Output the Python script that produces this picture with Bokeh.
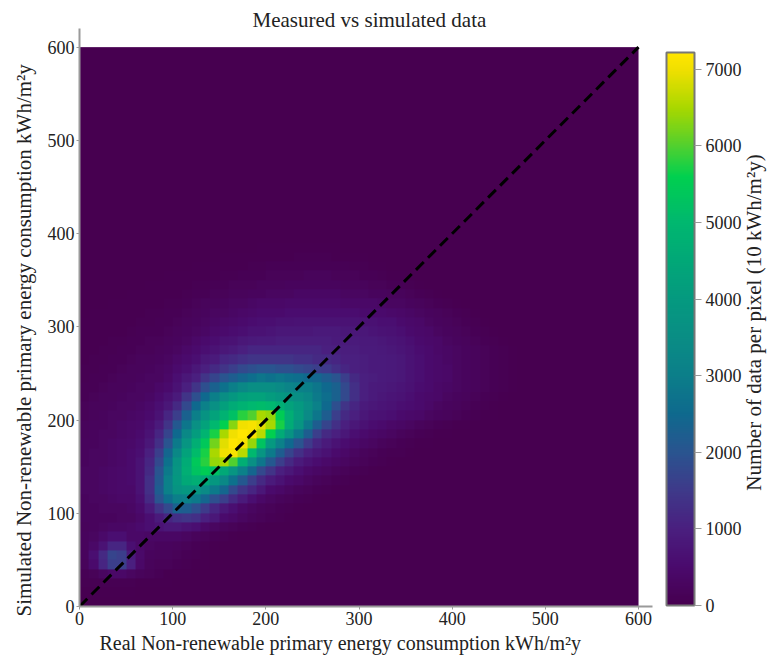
from bokeh.plotting import figure
from bokeh.embed import file_html
from bokeh.resources import INLINE
from bokeh.models import LinearColorMapper, ColorBar, FixedTicker, Title, Range1d, Label
import numpy as np
import math

TITLE = "Measured vs simulated data"
X_LABEL = "Real Non-renewable primary energy consumption kWh/m²y"
Y_LABEL = "Simulated Non-renewable primary energy consumption kWh/m²y"
CB_LABEL = "Number of data per pixel (10 kWh/m²y)"
AXIS_TICKS = [0, 100, 200, 300, 400, 500, 600]
CB_TICKS = [0, 1000, 2000, 3000, 4000, 5000, 6000, 7000]
DIAGONAL_X = [0, 600]
DIAGONAL_Y = [0, 600]

# Cells per 10 kWh/m2y, in hundreds; row = simulated bin from 0, column = real bin from 0.
HEAT_HUNDREDS = [
[],
[.5,.5,.5,.5,.3,.3],
[.7,.7,.7,.7,.7,.7,.5,.3,.3,.3],
[1,1.5,3,4,4,3,2,1.5,1,.5,.5,.3],
[2,5,11,16,16,10,4,2,1.5,1.5,1,.7,.4,.3],
[2.5,6,12,17,16,9,4.5,2.5,2,2,1.5,1,.7,.4],
[2.5,4,7,11,11,6,4,3,2.5,2.5,2,1.5,1,.7,.4],
[2.5,3,4.5,6,6,4,4,3.5,3.5,3.5,3.5,3,2,1.5,1,.7,.4],
[2,2.5,3,3.5,3.5,4,5,6,7,8,8,7,6,4,3,2,1.5,1,.7,.4],
[2.5,2.5,2.5,2.5,3,3,4,6,9,11,13,14,13,10,8,5,4,3,2,1.5,1,.7,.4],
[2.5,2.5,3,3,3,3.5,5,9,14,18,23,22,19,15,11,8,6,4,3,2,1.5,1,.7,.4],
[2.5,3,3,3.5,4,4,6,12,20,26,30,31,29,24,19,16,12,9,6,4,3,2,1.5,1,.7,.4],
[3,3,3.5,4,4.5,4.5,7,13,22,31,37,39,38,34,29,24,18,14,11,8,5,4,3,2,1.5,1,.7,.4],
[3,3,3.5,4,4.5,5,7,13,21,31,39,45,47,45,39,33,27,21,16,12,9,7,5,4,3,2,1.5,1,.7,.4],
[3,3,3.5,4,4.5,5,7,12,20,29,38,47,53,55,52,45,38,31,24,18,14,10,8,6,4.5,3.5,3,2,1.5,1,.7,.4],
[2.5,3,3,3.5,4,5,7,11,18,27,37,46,54,58,64,65,60,47,36,28,21,16,12,9,7,5.5,4.5,3.5,3,2,1.5,1,.7,.4],
[2.5,3,3,3.5,4,5,6,10,16,24,33,43,51,57,65,70,71,66,50,38,29,22,17,13,10,8,6.5,5,4,3,2,1.5,1,.8,.6,.4],
[2.5,2.5,3,3.5,4,4.5,5.5,8,13,20,29,38,47,54,62,69,72,71,64,53,40,31,25,20,15,11,9,7,5.5,4.5,3.5,3,2,1.5,1,.8,.5,.3],
[2,2.5,3,3,3.5,4,5,7,11,17,25,33,41,49,57,65,70,72,71,66,56,46,37,29,22,16,12,10,8,6,5,4,3.5,3,2,1.5,1,.8,.5,.3],
[2,2.5,2.5,3,3.5,4,4.5,6,9,14,21,28,36,43,50,56,63,70,71,69,65,57,46,38,29,22,17,13,10,8,6.5,5.5,5,4,3.5,3,2,1.5,1,.8,.5,.3],
[1.5,2,2.5,3,3,3.5,4,5,7,11,16,23,30,37,43,48,52,58,60,65,64,55,47,41,34,28,22,16,12,10,8,7,6.5,6,5,4.5,4,3,2.5,2,1.5,1,.7,.5,.3],
[1.5,2,2,2.5,3,3,3.5,4.5,6,8,12,18,25,31,36,42,46,48,50,51,50,47,43,40,35,31,25,19,14,11,9,8,7.5,7,6,5.5,5,4,3,2.5,2,1.5,1,.7,.4],
[1,1.5,2,2,2.5,3,3,3.5,5,6.5,9,14,19,25,30,35,39,42,43,43,41,39,37,35,33,29,26,23,18,13,10,9,8,7.5,7,6,5,4.5,4,3,2.5,2,1.5,1,.7,.4],
[1,1,1.5,2,2,2.5,3,3,4,5,7,10,14,19,23,27,30,33,35,35,35,34,32,31,30,28,25,23,18,13,10,9,8.5,8,7.5,6.5,5.5,5,4,3.5,3,2.5,2,1.5,1,.7,.4],
[.7,1,1,1.5,2,2,2.5,3,3,4,6,8,10,14,17,20,22,24,26,28,27,28,27,26,25,24,22,20,16,12,10,9.5,9,8.5,8,7,6,5,4.5,4,3,2.5,2,1.5,1,.7,.4],
[.7,.7,1,1,1.5,2,2,2.5,3,3.5,5,6,8,10,12,14,16,18,19,20,20,19,19,18,17,16,15,13,11,10,9.5,9,9,8.5,8,7,6,5,4.5,4,3,2.5,2,1.5,1,.7,.4],
[.5,.7,.7,1,1,1.5,2,2,2.5,3,4,5,6,8,9,11,12,13,14,14,14,14,14,13,13,12,12,11,10,10,9.5,9,9,8.5,8,7,6,5,4.5,3.5,3,2.5,2,1.5,1,.7,.4],
[.5,.5,.7,.7,1,1,1.5,1.5,2,2.5,3,4,5,6,7,8,9,10,11,11,11,11,11,11,11,11,10,10,9.5,9.5,9,9,8.5,8,7.5,6.5,5.5,5,4,3.5,3,2.5,2,1.5,1,.7,.4],
[.3,.5,.5,.7,.7,1,1,1.5,1.5,2,2.5,3,4,5,5.5,6.5,7,8,8.5,9,9,9.5,9.5,9.5,9.5,9.5,9.5,9,9,9,8.5,8.5,8,7.5,7,6,5,4.5,4,3,2.5,2,1.5,1,.7,.4],
[.3,.3,.5,.5,.5,.7,1,1,1,1.5,2,2.5,3,3.5,4.5,5,5.5,6,7,7,7.5,8,8,8,8,8.5,8.5,8.5,8,8,8,7.5,7,6.5,6,5,4.5,4,3,2.5,2,1.5,1,.7,.4],
[.3,.3,.3,.5,.5,.5,.7,.7,1,1,1.5,2,2.5,3,3.5,4,4.5,5,5.5,6,6,6.5,6.5,7,7,7,7,7,7,7,6.5,6.5,6,6,5,4.5,4,3,2.5,2,1.5,1,.7,.4],
[0,.3,.3,.3,.5,.5,.5,.7,.7,1,1,1.5,2,2.5,3,3,3.5,4,4.5,5,5,5,5.5,5.5,5.5,5.5,5.5,5.5,5.5,5.5,5,5,5,4.5,4,3.5,3,2.5,2,1.5,1,.7,.4],
[0,0,0,.3,.3,.3,.5,.5,.5,.7,.7,1,1.5,2,2,2.5,3,3,3.5,4,4,4,4.5,4.5,4.5,4.5,4.5,4.5,4,4,4,4,3.5,3,3,2.5,2,1.5,1,.7,.4],
[0,0,0,0,0,.3,.3,.3,.5,.5,.5,.7,1,1,1.5,1.5,2,2,2.5,2.5,3,3,3,3.5,3.5,3.5,3.5,3.5,3,3,3,2.5,2.5,2,2,1.5,1,.7,.4],
[0,0,0,0,0,0,0,.3,.3,.3,.5,.5,.7,.7,1,1,1.5,1.5,1.5,2,2,2,2.5,2.5,2.5,2.5,2.5,2.5,2,2,2,1.5,1.5,1,1,.7,.4],
[0,0,0,0,0,0,0,0,0,.3,.3,.3,.3,.5,.5,.7,.7,1,1,1,1.5,1.5,1.5,1.5,2,2,2,1.5,1.5,1.5,1,1,.7,.5,.3],
[0,0,0,0,0,0,0,0,0,0,0,0,.3,.3,.3,.5,.5,.5,.7,.7,1,1,1,1,1,1,1,1,1,.7,.7,.5,.3],
[0,0,0,0,0,0,0,0,0,0,0,0,0,0,0,.3,.3,.3,.3,.5,.5,.5,.5,.7,.7,.7,.7,.5,.5,.3,.3],
[0,0,0,0,0,0,0,0,0,0,0,0,0,0,0,0,0,0,0,.3,.3,.3,.3,.3,.3,.3,.3,.3],
]
N_BINS = 60

# Colour ramp of the reference's colour bar: value, colour.
RAMP_VALUES = [0, 500, 1000, 1500, 2000, 2500, 3000, 3500, 4000, 4500, 5000, 5600, 6000, 6500, 7000, 7220]
RAMP_COLOURS = ["#470050", "#4b0b6e", "#4a2080", "#3f3a8a", "#2a5590", "#0f6a8e", "#0c7f8a", "#0a8e85",
                "#059a80", "#02a878", "#00b870", "#00d050", "#50d030", "#a8d800", "#f0e000", "#ffe600"]

GREY = "#9a9a9a"
FONT = "Liberation Serif"
INK = "#222222"


def build_palette():
    rgb = np.array([[int(c[i:i + 2], 16) for i in (1, 3, 5)] for c in RAMP_COLOURS], float)
    grid = np.linspace(RAMP_VALUES[0], RAMP_VALUES[-1], 256)
    chans = [np.interp(grid, RAMP_VALUES, rgb[:, k]) for k in range(3)]
    return ["#%02x%02x%02x" % (int(r), int(g), int(b)) for r, g, b in zip(*chans)]


cells = np.zeros((N_BINS, N_BINS))
for j, row in enumerate(HEAT_HUNDREDS):
    cells[j, :len(row)] = row
cells *= 100

mapper = LinearColorMapper(palette=build_palette(), low=RAMP_VALUES[0], high=RAMP_VALUES[-1])

p = figure(width=768, height=657, output_backend="svg", toolbar_location=None,
           x_range=Range1d(0, 615), y_range=Range1d(0, 620),
           min_border_left=79, min_border_right=116, min_border_top=28, min_border_bottom=51)
p.frame_width = 573
p.frame_height = 578
p.background_fill_color = "white"
p.outline_line_color = None
p.grid.visible = False

p.image(image=[cells], x=0, y=0, dw=600, dh=600, color_mapper=mapper)
p.line(DIAGONAL_X, DIAGONAL_Y, line_color="black", line_width=3, line_dash="11 6")

for ax in (p.xaxis[0], p.yaxis[0]):
    ax.ticker = FixedTicker(ticks=AXIS_TICKS)
    ax.axis_line_color = GREY
    ax.axis_line_width = 2
    ax.major_tick_line_color = GREY
    ax.major_tick_line_width = 1
    ax.major_tick_out = 3
    ax.major_tick_in = 0
    ax.minor_tick_line_color = None
    ax.major_label_text_font = FONT
    ax.major_label_text_font_size = "18px"
    ax.major_label_text_color = INK
    ax.major_label_standoff = 2

bar = ColorBar(color_mapper=mapper, ticker=FixedTicker(ticks=CB_TICKS), location=(587, 1), width=28, height=553,
               padding=0, margin=0, major_tick_out=7, major_tick_in=0, major_tick_line_color=GREY,
               minor_tick_line_color=None, bar_line_color="#777777", bar_line_width=2, label_standoff=4,
               major_label_text_font=FONT, major_label_text_font_size="18px", major_label_text_color=INK)
p.add_layout(bar, "center")

p.add_layout(Title(text=TITLE, align="left", offset=173, standoff=-7, text_font=FONT, text_font_size="21px",
                   text_font_style="normal", text_color=INK), "above")
p.add_layout(Title(text=X_LABEL, align="left", offset=20, standoff=5, text_font=FONT, text_font_size="20px",
                   text_font_style="normal", text_color=INK), "below")
p.add_layout(Title(text=Y_LABEL, align="left", offset=-10, standoff=18, text_font=FONT, text_font_size="21px",
                   text_font_style="normal", text_color=INK), "left")

cb_title = Label(x=753, y=322, x_units="canvas", y_units="canvas", text=CB_LABEL, angle=math.pi / 2,
                 text_align="center", text_baseline="middle", text_font=FONT, text_font_size="21px",
                 text_color=INK)
p.add_layout(cb_title, "right")

open("out.html", "w").write(file_html(p, INLINE))
